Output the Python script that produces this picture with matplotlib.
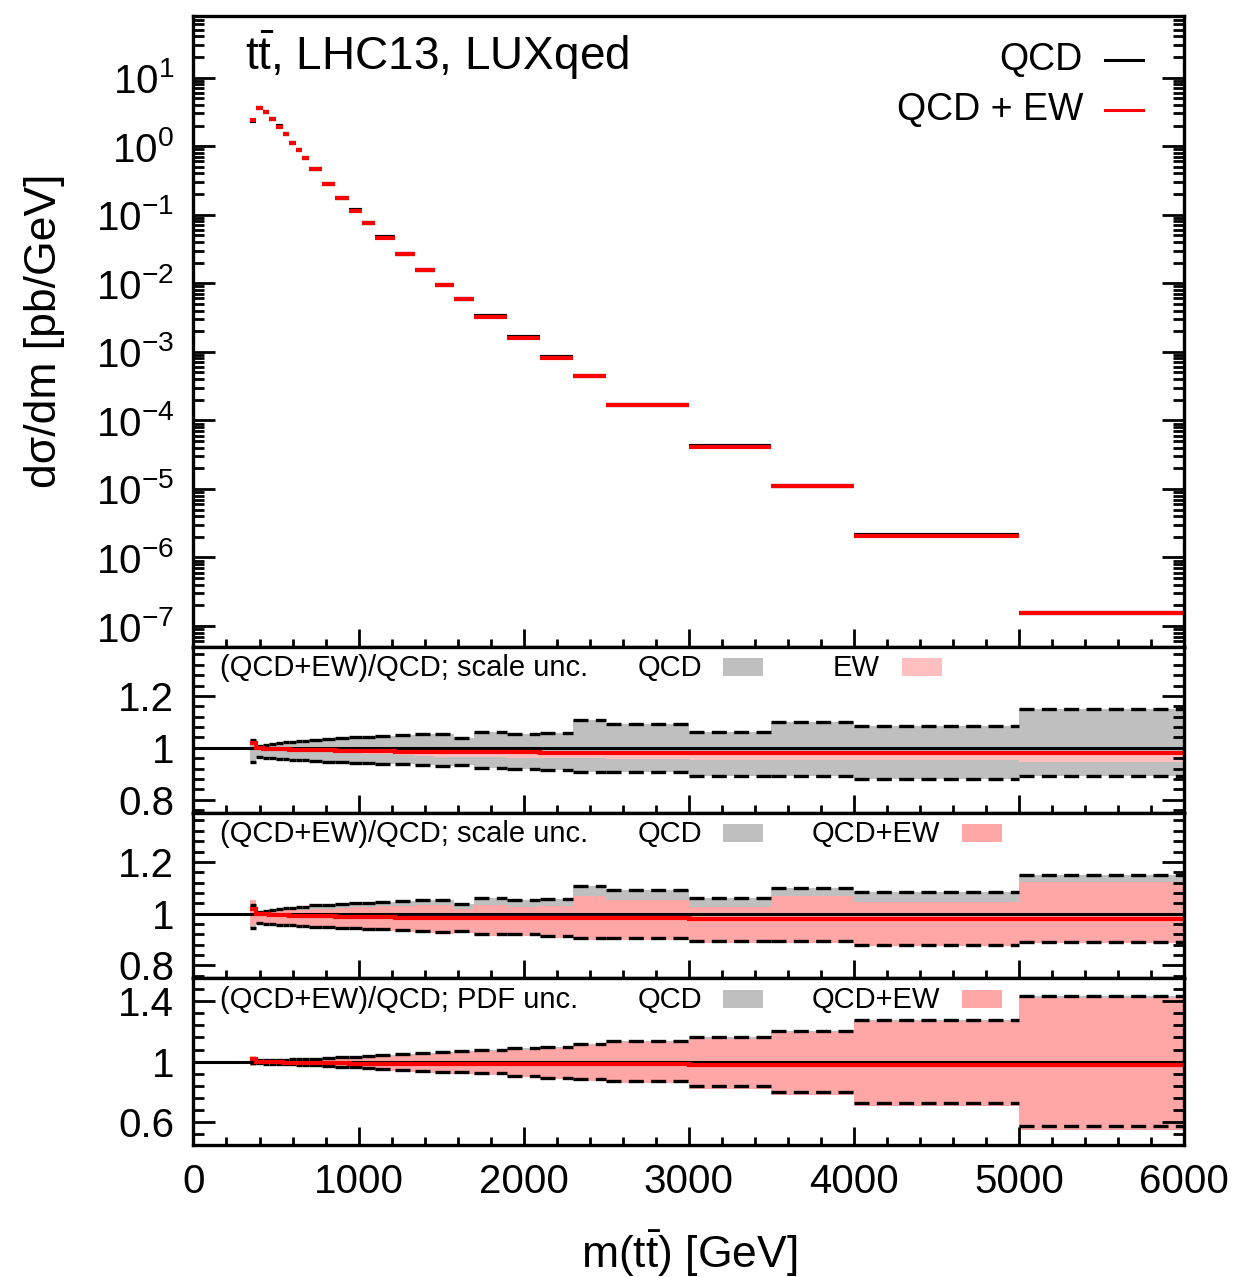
import numpy as np
import matplotlib
matplotlib.use("Agg")
import matplotlib.pyplot as plt
from matplotlib.patches import Rectangle
from matplotlib.lines import Line2D
from matplotlib.ticker import (MultipleLocator, FixedLocator, LogLocator,
                               FuncFormatter, NullFormatter)

plt.rcParams["font.family"] = ["Liberation Sans", "DejaVu Sans"]
plt.rcParams["mathtext.fontset"] = "custom"
plt.rcParams["mathtext.rm"] = "Liberation Sans"
plt.rcParams["mathtext.it"] = "Liberation Sans:italic"
plt.rcParams["mathtext.bf"] = "Liberation Sans:bold"

# m(tt) binning [GeV]
bin_edges = [340, 380, 420, 460, 500, 540, 580, 620, 660, 700,
             780, 860, 940, 1020, 1100,
             1220, 1340, 1460, 1580, 1700,
             1900, 2100, 2300, 2500,
             3000, 3500, 4000, 5000, 6000]

# dsigma/dm, QCD [pb/GeV]
xsec_qcd = [2.35, 3.58, 3.13, 2.51, 1.94, 1.50, 1.13, 0.875, 0.668,
            0.462, 0.279, 0.177, 0.116, 0.0764,
            0.0471, 0.0267, 0.0156, 0.00954, 0.00597,
            3.33e-3, 1.62e-3, 8.4e-4, 4.45e-4,
            1.69e-4, 4.2e-5, 1.12e-5, 2.13e-6, 1.57e-7]

# (QCD+EW)/QCD central
ratio_ew = [1.018, 0.998, 0.997, 0.996, 0.995, 0.994, 0.993, 0.992, 0.992,
            0.991, 0.990, 0.989, 0.988, 0.987,
            0.986, 0.985, 0.985, 0.984, 0.984,
            0.983, 0.983, 0.982, 0.982,
            0.982, 0.981, 0.981, 0.980, 0.981]

# QCD scale band, normalised to QCD
scale_qcd_hi = [1.032, 1.008, 1.012, 1.015, 1.018, 1.021, 1.023, 1.025, 1.027,
                1.032, 1.034, 1.038, 1.040, 1.043,
                1.047, 1.049, 1.053, 1.054, 1.036,
                1.061, 1.052, 1.058, 1.107,
                1.090, 1.060, 1.099, 1.083, 1.149]
scale_qcd_lo = [0.944, 0.965, 0.962, 0.960, 0.958, 0.956, 0.955, 0.953, 0.952,
                0.950, 0.947, 0.945, 0.943, 0.941,
                0.939, 0.936, 0.933, 0.930, 0.932,
                0.922, 0.920, 0.915, 0.906,
                0.906, 0.893, 0.893, 0.879, 0.891]

# EW-only scale band
scale_ew_hi = [1.022, 1.001, 1.000, 0.999, 0.998, 0.997, 0.996, 0.995, 0.995,
               0.994, 0.993, 0.992, 0.991, 0.990,
               0.989, 0.988, 0.988, 0.987, 0.987,
               0.986, 0.986, 0.985, 0.985,
               0.985, 0.984, 0.984, 0.983, 0.984]
scale_ew_lo = [1.010, 0.994, 0.993, 0.992, 0.990, 0.989, 0.988, 0.987, 0.986,
               0.985, 0.983, 0.981, 0.979, 0.977,
               0.975, 0.972, 0.969, 0.966, 0.965,
               0.963, 0.961, 0.960, 0.959,
               0.956, 0.954, 0.953, 0.952, 0.946]

# QCD+EW scale band
scale_qcdew_hi = [1.051, 1.004, 1.007, 1.009, 1.011, 1.013, 1.014, 1.015, 1.016,
                  1.019, 1.020, 1.023, 1.024, 1.026,
                  1.029, 1.030, 1.033, 1.034, 1.018,
                  1.032, 1.027, 1.030, 1.070,
                  1.052, 1.025, 1.068, 1.047, 1.122]
scale_qcdew_lo = [0.955, 0.962, 0.959, 0.957, 0.955, 0.953, 0.951, 0.949, 0.948,
                  0.945, 0.942, 0.940, 0.937, 0.935,
                  0.933, 0.929, 0.926, 0.923, 0.925,
                  0.915, 0.912, 0.907, 0.898,
                  0.899, 0.885, 0.885, 0.874, 0.887]

# PDF bands
pdf_qcd_hi = [1.008, 1.009, 1.010, 1.011, 1.012, 1.013, 1.015, 1.016, 1.018,
              1.021, 1.025, 1.029, 1.034, 1.040,
              1.046, 1.053, 1.060, 1.066, 1.070,
              1.076, 1.088, 1.099, 1.115,
              1.137, 1.162, 1.203, 1.273, 1.434]
pdf_qcd_lo = [0.990, 0.989, 0.988, 0.987, 0.986, 0.985, 0.983, 0.981, 0.979,
              0.976, 0.972, 0.968, 0.963, 0.958,
              0.952, 0.946, 0.940, 0.934, 0.930,
              0.925, 0.906, 0.894, 0.883,
              0.873, 0.839, 0.799, 0.729, 0.574]
pdf_qcdew_hi = [1.040, 1.006, 1.007, 1.008, 1.009, 1.010, 1.011, 1.012, 1.014,
                1.016, 1.020, 1.024, 1.028, 1.034,
                1.039, 1.046, 1.053, 1.059, 1.063,
                1.068, 1.080, 1.091, 1.107,
                1.128, 1.152, 1.196, 1.268, 1.423]
pdf_qcdew_lo = [0.972, 0.985, 0.984, 0.983, 0.982, 0.981, 0.979, 0.977, 0.974,
                0.970, 0.965, 0.960, 0.954, 0.948,
                0.941, 0.934, 0.928, 0.922, 0.919,
                0.915, 0.896, 0.884, 0.873,
                0.862, 0.817, 0.777, 0.706, 0.552]

GREY = "#bfbfbf"
PINK_EW = "#ffbfbf"
PINK = "#ffa6a6"
RED = "#ff0000"
DASH = (0, (4.5, 2.2))

edges = np.array(bin_edges, dtype=float)
lo_x, hi_x = edges[:-1], edges[1:]
xsec_qcdew = np.array(xsec_qcd) * np.array(ratio_ew)

fig = plt.figure(figsize=(12.45, 12.77), dpi=100)
L, W = 0.1554, 0.7956
ax_main = fig.add_axes([L, 0.4936, W, 0.4941])
ax_r1 = fig.add_axes([L, 0.3636, W, 0.1300])
ax_r2 = fig.add_axes([L, 0.2338, W, 0.1298])
ax_r3 = fig.add_axes([L, 0.1034, W, 0.1304])


def style(ax):
    for s in ax.spines.values():
        s.set_linewidth(2.4)
        s.set_zorder(5)
    ax.set_xlim(0, 6000)
    ax.xaxis.set_major_locator(MultipleLocator(1000))
    ax.xaxis.set_minor_locator(MultipleLocator(200))
    ax.tick_params(which="both", direction="in", left=True, right=True,
                   top=False, bottom=True, width=2, labelsize=29)
    ax.tick_params(axis="y", which="major", length=15.5, pad=14)
    ax.tick_params(axis="y", which="minor", length=8)
    ax.tick_params(axis="x", which="major", length=13, pad=13)
    ax.tick_params(axis="x", which="minor", length=6)


def band(ax, hi, lo, color):
    ax.stairs(hi, edges, baseline=lo, fill=True, color=color, lw=0, zorder=1)


def dashed_edges(ax, hi, lo):
    ax.hlines(hi, lo_x, hi_x, colors="k", lw=2.4, linestyles=[DASH], zorder=3)
    ax.hlines(lo, lo_x, hi_x, colors="k", lw=2.4, linestyles=[DASH], zorder=3)


def centrals(ax):
    ax.axhline(1.0, color="k", lw=2.2, zorder=3)
    ax.stairs(ratio_ew, edges, baseline=None, color=RED, lw=3, zorder=4)


def key_box(ax, label, x_text, x_box, color):
    ax.text(x_text, 0.873, label, transform=ax.transAxes, ha="right",
            va="center", fontsize=21)
    ax.add_patch(Rectangle((x_box, 0.825), 0.0404, 0.108, transform=ax.transAxes,
                           facecolor=color, edgecolor="none", zorder=6))


def ratio_ticks(ax, lims, majors, minors):
    ax.set_ylim(*lims)
    ax.yaxis.set_major_locator(FixedLocator(majors))
    ax.yaxis.set_minor_locator(FixedLocator(minors))
    ax.yaxis.set_major_formatter(FuncFormatter(lambda v, _: f"{v:g}"))


# main distribution
style(ax_main)
ax_main.set_yscale("log")
ax_main.set_ylim(5e-8, 80)
ax_main.yaxis.set_major_locator(LogLocator(base=10, numticks=20))
ax_main.yaxis.set_minor_locator(LogLocator(base=10, subs=np.arange(2, 10), numticks=200))
ax_main.yaxis.set_minor_formatter(NullFormatter())
ax_main.tick_params(axis="x", labelbottom=False)
ax_main.hlines(xsec_qcd, lo_x, hi_x, colors="k", lw=3)
ax_main.hlines(xsec_qcdew, lo_x, hi_x, colors=RED, lw=3)
ax_main.set_ylabel("dσ/dm [pb/GeV]", fontsize=32)
ax_main.yaxis.set_label_coords(-0.130, 0.5)
ax_main.text(0.052, 0.914, r"t$\bar{\mathrm{t}}$, LHC13, LUXqed",
             transform=ax_main.transAxes, fontsize=33, va="baseline")
for yk, label, col in [(0.930, "QCD", "k"), (0.851, "QCD + EW", RED)]:
    ax_main.text(0.898, yk, label, transform=ax_main.transAxes, ha="right",
                 va="center", fontsize=27)
    ax_main.add_line(Line2D([0.920, 0.9586], [yk, yk], transform=ax_main.transAxes,
                            color=col, lw=2.2))

ticks_08 = np.round(np.arange(0.76, 1.40, 0.04), 2)
ticks_06 = np.round(np.arange(0.52, 1.55, 0.08), 2)

# ratio 1: scale uncertainty, QCD vs EW
style(ax_r1)
band(ax_r1, scale_qcd_hi, scale_qcd_lo, GREY)
band(ax_r1, scale_ew_hi, scale_ew_lo, PINK_EW)
dashed_edges(ax_r1, scale_qcd_hi, scale_qcd_lo)
centrals(ax_r1)
ratio_ticks(ax_r1, (0.75, 1.39), [0.8, 1.0, 1.2], ticks_08)
ax_r1.tick_params(axis="x", labelbottom=False)
ax_r1.text(0.027, 0.873, "(QCD+EW)/QCD; scale unc.", transform=ax_r1.transAxes,
           va="center", fontsize=21)
key_box(ax_r1, "QCD", 0.514, 0.5346, GREY)
key_box(ax_r1, "EW", 0.693, 0.7153, PINK_EW)

# ratio 2: scale uncertainty, QCD vs QCD+EW
style(ax_r2)
band(ax_r2, scale_qcd_hi, scale_qcd_lo, GREY)
band(ax_r2, scale_qcdew_hi, scale_qcdew_lo, PINK)
dashed_edges(ax_r2, scale_qcd_hi, scale_qcd_lo)
centrals(ax_r2)
ratio_ticks(ax_r2, (0.75, 1.39), [0.8, 1.0, 1.2], ticks_08)
ax_r2.tick_params(axis="x", labelbottom=False)
ax_r2.text(0.027, 0.873, "(QCD+EW)/QCD; scale unc.", transform=ax_r2.transAxes,
           va="center", fontsize=21)
key_box(ax_r2, "QCD", 0.514, 0.5346, GREY)
key_box(ax_r2, "QCD+EW", 0.7536, 0.7758, PINK)

# ratio 3: PDF uncertainty
style(ax_r3)
band(ax_r3, pdf_qcd_hi, pdf_qcd_lo, GREY)
band(ax_r3, pdf_qcdew_hi, pdf_qcdew_lo, PINK)
dashed_edges(ax_r3, pdf_qcd_hi, pdf_qcd_lo)
centrals(ax_r3)
ratio_ticks(ax_r3, (0.45, 1.55), [0.6, 1.0, 1.4], ticks_06)
ax_r3.text(0.027, 0.873, "(QCD+EW)/QCD; PDF unc.", transform=ax_r3.transAxes,
           va="center", fontsize=21)
key_box(ax_r3, "QCD", 0.514, 0.5346, GREY)
key_box(ax_r3, "QCD+EW", 0.7536, 0.7758, PINK)
ax_r3.set_xlabel(r"m(t$\bar{\mathrm{t}}$) [GeV]", fontsize=32)
ax_r3.xaxis.set_label_coords(0.5, -0.50)

fig.savefig("out.png", dpi=100)
